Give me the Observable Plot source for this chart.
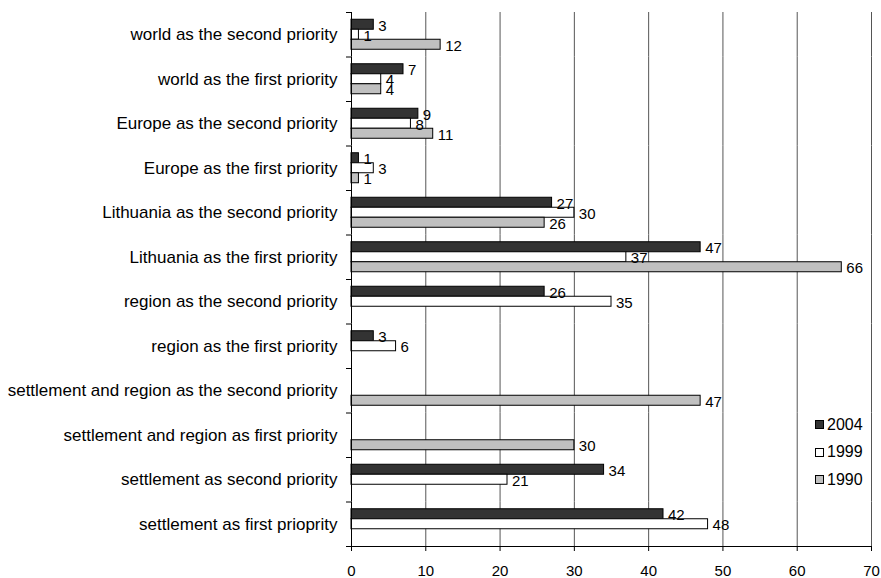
<!DOCTYPE html>
<html>
<head>
<meta charset="utf-8">
<script src="https://cdn.jsdelivr.net/npm/d3@7"></script>
<script src="https://cdn.jsdelivr.net/npm/@observablehq/plot@0.6"></script>
<style>
  body { margin: 0; background: #fff; font-family: "Liberation Sans", Arial, sans-serif; }
  #chart { position: relative; width: 881px; height: 578px; }
  .legend { position: absolute; left: 815px; top: 411px; font-size: 16px; color: #000; }
  .legend .item { display: flex; align-items: center; height: 27.5px; }
  .legend .sw { width: 9px; height: 9px; border: 1px solid #000; box-sizing: border-box; margin-right: 3px; }
</style>
</head>
<body>
<div id="chart"></div>
<script>
// Priorities, listed top to bottom
const categories = [
  "world as the second priority",
  "world as the first priority",
  "Europe as the second priority",
  "Europe as the first priority",
  "Lithuania as the second priority",
  "Lithuania as the first priority",
  "region as the second priority",
  "region as the first priority",
  "settlement and region as the second priority",
  "settlement and region as first priority",
  "settlement as second priority",
  "settlement as first prioprity"
];
const series = ["2004", "1999", "1990"];
const values2004 = [3, 7, 9, 1, 27, 47, 26, 3, null, null, 34, 42];
const values1999 = [1, 4, 8, 3, 30, 37, 35, 6, null, null, 21, 48];
const values1990 = [12, 4, 11, 1, 26, 66, null, null, 47, 30, null, null];
const seriesColors = ["#333333", "#ffffff", "#c0c0c0"];
const xTicks = [0, 10, 20, 30, 40, 50, 60, 70];

// Long-format rows; missing values get no bar
const rows = [];
categories.forEach((category, i) => {
  [values2004, values1999, values1990].forEach((vals, j) => {
    if (vals[i] != null) rows.push({category, series: series[j], value: vals[i]});
  });
});

const W = 881, H = 578, mt = 12, mb = 32, ml = 351, mr = 10;
const band = (H - mt - mb) / categories.length;
const barH = 10;
const lastCategory = categories[categories.length - 1];

const plot = Plot.plot({
  width: W,
  height: H,
  marginTop: mt,
  marginBottom: mb,
  marginLeft: ml,
  marginRight: mr,
  style: {fontFamily: "'Liberation Sans', Arial, sans-serif", fontSize: "15px", color: "#000", background: "#fff"},
  x: {domain: [0, 70]},
  y: {domain: series, paddingInner: 0, paddingOuter: (band / barH - 3) / 2, round: false, axis: null},
  fy: {domain: categories, padding: 0, round: false, axis: null},
  color: {domain: series, range: seriesColors},
  marks: [
    Plot.gridX({ticks: xTicks.slice(1), stroke: "#555", strokeOpacity: 1}),
    Plot.barX(rows, {x: "value", y: "series", fy: "category", fill: "series", stroke: "#000", strokeWidth: 1}),
    Plot.text(rows, {x: "value", y: "series", fy: "category", text: d => String(d.value), textAnchor: "start", dx: 4.5, dy: 1, fill: "#000"}),
    // left axis line
    Plot.ruleX([0], {stroke: "#000"}),
    // bottom axis line, drawn in the last facet only
    Plot.frame({anchor: "bottom", fy: [lastCategory], stroke: "#000"}),
    // category labels
    Plot.axisFy({anchor: "left", tickSize: 0, tickPadding: 14, label: null, fontSize: 17}),
    // tick marks at category boundaries
    Plot.axisFy({anchor: "left", tickSize: 5, fill: "none", label: null, dy: -band / 2}),
    Plot.axisFy({anchor: "left", ticks: [lastCategory], tickSize: 5, fill: "none", label: null, dy: band / 2}),
    Plot.axisX({ticks: xTicks, tickSize: 5, tickPadding: 14, label: null, stroke: "#000"})
  ]
});

const chart = document.getElementById("chart");
chart.appendChild(plot);

// Legend inside the plot area, built from the color scale
const colorScale = plot.scale("color");
const legend = document.createElement("div");
legend.className = "legend";
colorScale.domain.forEach((s, i) => {
  const item = document.createElement("div");
  item.className = "item";
  const sw = document.createElement("span");
  sw.className = "sw";
  sw.style.background = colorScale.range[i];
  const label = document.createElement("span");
  label.textContent = s;
  item.appendChild(sw);
  item.appendChild(label);
  legend.appendChild(item);
});
chart.appendChild(legend);
</script>
</body>
</html>
